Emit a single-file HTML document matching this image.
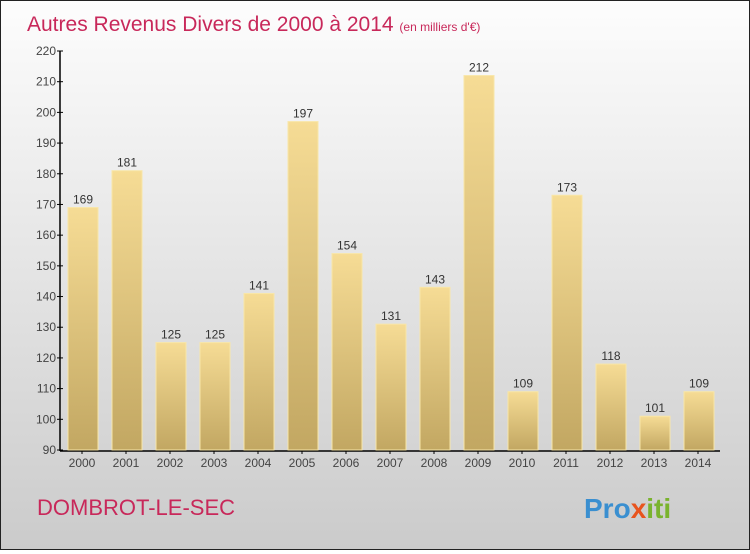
<!DOCTYPE html>
<html><head><meta charset="utf-8"><style>
body{margin:0}
#c{width:748px;height:548px;border:1px solid #222;background:linear-gradient(#fdfdfd,#cbcbcb);position:relative;font-family:"Liberation Sans",sans-serif}
</style></head><body>
<div id="c">
<svg width="748" height="548" id="s">
<defs><linearGradient id="g" x1="0" y1="0" x2="0" y2="1"><stop offset="0" stop-color="#f6dc95"/><stop offset="1" stop-color="#c2a762"/></linearGradient></defs>
<text x="26" y="30" font-size="21" fill="#c8285a">Autres Revenus Divers de 2000 à 2014 <tspan font-size="12" fill="#c8285a">(en milliers d'€)</tspan></text>
<text x="36" y="514" font-size="22" fill="#c8285a">DOMBROT-LE-SEC</text>
<text x="583" y="517" font-size="28" font-weight="bold"><tspan fill="#3a8fd0">Pro</tspan><tspan fill="#e8541e">x</tspan><tspan fill="#7ab32e">iti</tspan></text>
<g id="ax"></g><g id="bars"></g>
</svg></div>
<script>
const years=["2000","2001","2002","2003","2004","2005","2006","2007","2008","2009","2010","2011","2012","2013","2014"];
const values=[169,181,125,125,141,197,154,131,143,212,109,173,118,101,109];
const ticks=[90,100,110,120,130,140,150,160,170,180,190,200,210,220];
const NS="http://www.w3.org/2000/svg";
const x0=59,band=44,yMin=90,yMax=220,yTop=50,yBot=449;
const y=v=>yBot-(v-yMin)/(yMax-yMin)*(yBot-yTop);
function mk(t,a,p){const e=document.createElementNS(NS,t);for(const k in a)e.setAttribute(k,a[k]);p.appendChild(e);return e;}
const ax=document.getElementById('ax'),bg=document.getElementById('bars');
ticks.forEach(t=>{
 const l=mk('line',{x1:x0-3,x2:x0+3,y1:y(t),y2:y(t),stroke:'#000'},ax);
 
 
 const tx=mk('text',{x:x0-4,y:y(t)+4,'font-size':12,'text-anchor':'end',fill:'#444'},ax);tx.textContent=t;
 
 
});
years.forEach((yr,i)=>{
 const bx=x0+band*i+8, v=values[i];
 const r=mk('rect',{x:bx,y:y(v),width:30,height:yBot-y(v),fill:'url(#g)',stroke:'#f8e6a8','stroke-width':1},bg);
 
 
 const vt=mk('text',{x:bx+15,y:y(v)-4,'font-size':12,'text-anchor':'middle',fill:'#333'},bg);vt.textContent=v;
 
 
 const tk=mk('line',{x1:x0+band*i+band/2,x2:x0+band*i+band/2,y1:yBot,y2:yBot+4,stroke:'#000'},ax);
 
 
 const xt=mk('text',{x:x0+band*i+band/2,y:yBot+17,'font-size':12,'text-anchor':'middle',fill:'#444'},ax);xt.textContent=yr;
 
 
});
const a1=mk('line',{x1:x0,x2:x0,y1:yTop,y2:yBot+1,stroke:'#000','stroke-width':1.5},ax);


const a2=mk('line',{x1:x0,x2:x0+band*15,y1:yBot+1,y2:yBot+1,stroke:'#000','stroke-width':1.5},ax);


</script>
</body></html>
